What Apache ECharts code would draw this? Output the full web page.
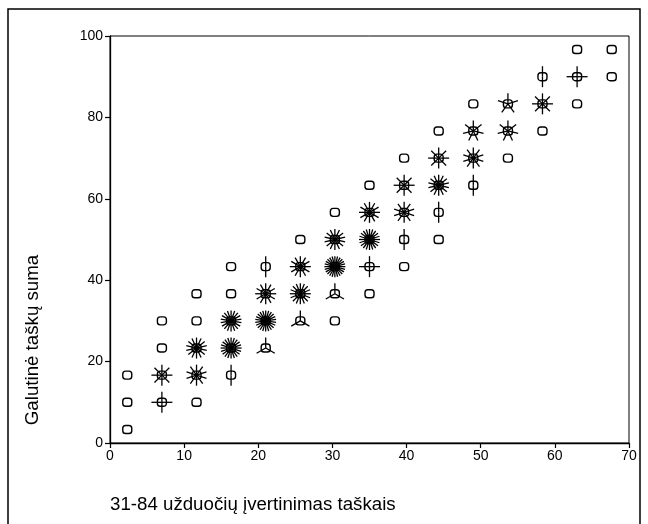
<!DOCTYPE html>
<html>
<head>
<meta charset="utf-8">
<script src="https://cdn.jsdelivr.net/npm/echarts@6/dist/echarts.min.js"></script>
<style>html,body{margin:0;padding:0;background:#fff}#chart{width:648px;height:524px}</style>
</head>
<body>
<div id="chart"></div>
<script>
// Sunflower plot data: bin centre (x, y) and frequency (number of petals)
const xValues = [
  2.33, 2.33, 2.33,
  7, 7, 7, 7,
  11.67, 11.67, 11.67, 11.67, 11.67,
  16.33, 16.33, 16.33, 16.33, 16.33,
  21, 21, 21, 21,
  25.67, 25.67, 25.67, 25.67,
  30.33, 30.33, 30.33, 30.33, 30.33,
  35, 35, 35, 35, 35,
  39.67, 39.67, 39.67, 39.67, 39.67,
  44.33, 44.33, 44.33, 44.33, 44.33,
  49, 49, 49, 49,
  53.67, 53.67, 53.67,
  58.33, 58.33, 58.33,
  63, 63, 63,
  67.67, 67.67
];
const yValues = [
  3.33, 10, 16.67,
  10, 16.67, 23.33, 30,
  10, 16.67, 23.33, 30, 36.67,
  16.67, 23.33, 30, 36.67, 43.33,
  23.33, 30, 36.67, 43.33,
  30, 36.67, 43.33, 50,
  30, 36.67, 43.33, 50, 56.67,
  36.67, 43.33, 50, 56.67, 63.33,
  43.33, 50, 56.67, 63.33, 70,
  50, 56.67, 63.33, 70, 76.67,
  63.33, 70, 76.67, 83.33,
  70, 76.67, 83.33,
  76.67, 83.33, 90,
  83.33, 90, 96.67,
  90, 96.67
];
const counts = [
  1, 1, 1,
  4, 8, 1, 1,
  1, 10, 14, 1, 1,
  2, 20, 18, 1, 1,
  3, 22, 12, 2,
  3, 16, 12, 1,
  1, 3, 24, 14, 1,
  1, 4, 20, 12, 1,
  1, 2, 10, 8, 1,
  1, 2, 14, 8, 1,
  2, 10, 7, 1,
  1, 7, 5,
  1, 8, 2,
  1, 4, 1,
  1, 1
];
const xTicks = [0, 10, 20, 30, 40, 50, 60, 70];
const yTicks = [0, 20, 40, 60, 80, 100];

const data = xValues.map((x, i) => [x, yValues[i], counts[i]]);

const chart = echarts.init(document.getElementById('chart'), null, {renderer: 'canvas'});

function renderItem(params, api) {
  const c = api.coord([api.value(0), api.value(1)]);
  const n = api.value(2);
  const children = [];
  children.push({
    type: 'rect',
    shape: {x: c[0] - 4.5, y: c[1] - 4, width: 9, height: 8, r: 2.8},
    style: {fill: 'none', stroke: '#000', lineWidth: 1.4}
  });
  const r = 10.5;
  if (n > 1) {
    for (let i = 0; i < n; i++) {
      const a = Math.PI / 2 + 2 * Math.PI * i / n;
      children.push({
        type: 'line',
        shape: {x1: c[0], y1: c[1], x2: c[0] + r * Math.cos(a), y2: c[1] - r * Math.sin(a)},
        style: {stroke: '#000', lineWidth: 1.3}
      });
    }
  }
  return {type: 'group', children: children};
}

const axisFont = {fontFamily: 'Liberation Sans, Arial, sans-serif', fontSize: 14, color: '#000'};

chart.setOption({
  animation: false,
  backgroundColor: '#fff',
  grid: {left: 110, right: 19, top: 36, bottom: 81, show: true, borderColor: '#000', borderWidth: 1, backgroundColor: 'transparent'},
  xAxis: {
    type: 'value', min: xTicks[0], max: xTicks[xTicks.length - 1], interval: 10,
    axisLine: {show: true, onZero: false, lineStyle: {color: '#000', width: 1.3}},
    axisTick: {show: true, inside: false, length: 5, lineStyle: {color: '#000', width: 1.2}},
    axisLabel: Object.assign({margin: 6}, axisFont),
    splitLine: {show: false}
  },
  yAxis: {
    type: 'value', min: yTicks[0], max: yTicks[yTicks.length - 1], interval: 20,
    axisLine: {show: true, onZero: false, lineStyle: {color: '#000', width: 1.3}},
    axisTick: {show: true, inside: false, length: 5, lineStyle: {color: '#000', width: 1.2}},
    axisLabel: Object.assign({margin: 7}, axisFont),
    splitLine: {show: false}
  },
  graphic: [
    {type: 'rect', shape: {x: 8, y: 9, width: 632, height: 540}, style: {fill: 'none', stroke: '#000', lineWidth: 1.5}, silent: true},
    {type: 'text', left: 110, top: 495, style: {text: '31-84 užduočių įvertinimas taškais', font: '18.7px "Liberation Sans", Arial, sans-serif', fill: '#000'}},
    {type: 'text', x: 33, y: 340, rotation: Math.PI / 2, style: {text: 'Galutinė taškų suma', font: '18.7px "Liberation Sans", Arial, sans-serif', fill: '#000', align: 'center', verticalAlign: 'middle'}}
  ],
  series: [{
    type: 'custom',
    renderItem: renderItem,
    data: data,
    clip: false
  }]
});
</script>
</body>
</html>
